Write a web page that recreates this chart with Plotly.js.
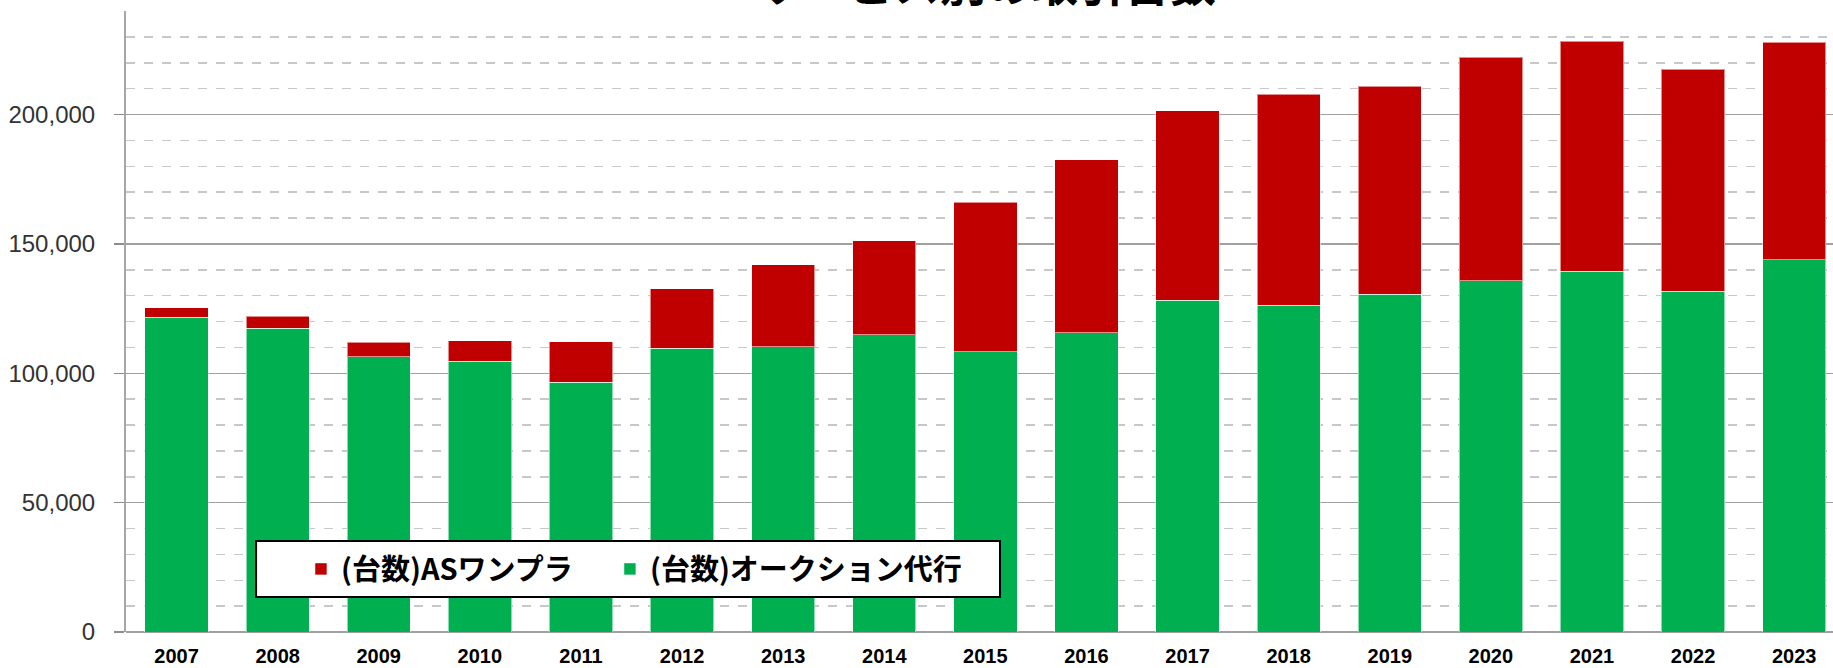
<!DOCTYPE html>
<html>
<head>
<meta charset="utf-8">
<script src="https://cdn.plot.ly/plotly-3.0.1.min.js"></script>
<style>
html,body{margin:0;padding:0;background:#fff;}
#chart{width:1833px;height:668px;}
</style>
</head>
<body>
<div id="chart"></div>
<script>
const years = ['2007','2008','2009','2010','2011','2012','2013','2014','2015','2016','2017','2018','2019','2020','2021','2022','2023'];
const auctionAgency = [121600,117400,106300,104700,96500,109600,110200,114800,108400,115600,128200,126300,130500,135700,139400,131700,143800];
const asOnePrice = [3700,4600,5700,7900,15600,23100,31800,36500,57600,66900,73300,81500,80500,86500,88900,85800,84100];
const seriesNames = ['(台数)オークション代行','(台数)ASワンプラ'];
const chartTitle = 'サービス別の取引台数';
const yTickVals = [0,50000,100000,150000,200000];

const traces = [
  {type:'bar', name: seriesNames[0], x: years, y: auctionAgency, legend:'legend',
   marker:{color:'#00B050', line:{color:'rgba(255,255,255,0.55)', width:1}}},
  {type:'bar', name: seriesNames[1], x: years, y: asOnePrice, legend:'legend2',
   marker:{color:'#C00000', line:{color:'rgba(255,255,255,0.55)', width:1}}}
];

const legendFont = {family:'"Noto Sans CJK JP", sans-serif', size:29, color:'#000000', weight:'bold'};

const layout = {
  width:1833, height:668,
  margin:{l:126, r:0, t:11, b:36, pad:0},
  paper_bgcolor:'#ffffff', plot_bgcolor:'#ffffff',
  barmode:'stack', bargap:0.374,
  showlegend:true,
  legend:{orientation:'h', x:0.2835, xanchor:'left', y:0.1014, yanchor:'middle',
    bgcolor:'rgba(0,0,0,0)', borderwidth:0, font:legendFont, itemwidth:30},
  legend2:{orientation:'h', x:0.1025, xanchor:'left', y:0.1014, yanchor:'middle',
    bgcolor:'rgba(0,0,0,0)', borderwidth:0, font:legendFont, itemwidth:30},
  shapes:[{type:'rect', xref:'paper', yref:'paper', x0:0.0762, x1:0.512, y0:0.0564, y1:0.1465,
    line:{color:'#000000', width:2}, fillcolor:'#ffffff', layer:'above'}],
  xaxis:{type:'category', range:[-0.5, 16.384], showgrid:false, showline:false, zeroline:false,
    ticks:'', ticklabelstandoff:10,
    tickfont:{family:'"Liberation Sans Narrow", "Liberation Sans", sans-serif', size:20, color:'#000000', weight:'bold'}},
  yaxis:{range:[0,240000], tickvals:yTickVals, tickformat:',d',
    showline:true, linecolor:'#a6a6a6', linewidth:2,
    ticks:'outside', ticklen:10, tickcolor:'#8c8c8c', tickwidth:1.5,
    showgrid:true, gridcolor:'#a0a0a0', gridwidth:1.5,
    zeroline:true, zerolinecolor:'#a0a0a0', zerolinewidth:2,
    minor:{dtick:10000, showgrid:true, gridcolor:'#c8c8c8', griddash:'dash', gridwidth:1.5, ticks:''},
    ticklabelstandoff:14,
    tickfont:{family:'"Liberation Sans", sans-serif', size:24, color:'#333333'}},
  annotations:[{text:chartTitle, xref:'paper', yref:'paper', x:0.504, y:1.0, xanchor:'center', yanchor:'bottom',
    showarrow:false, yshift:-5,
    font:{family:'"Noto Sans CJK JP", sans-serif', size:46, color:'#000000', weight:'bold'}}]
};

Plotly.newPlot('chart', traces, layout, {displayModeBar:false, staticPlot:true});
</script>
</body>
</html>
